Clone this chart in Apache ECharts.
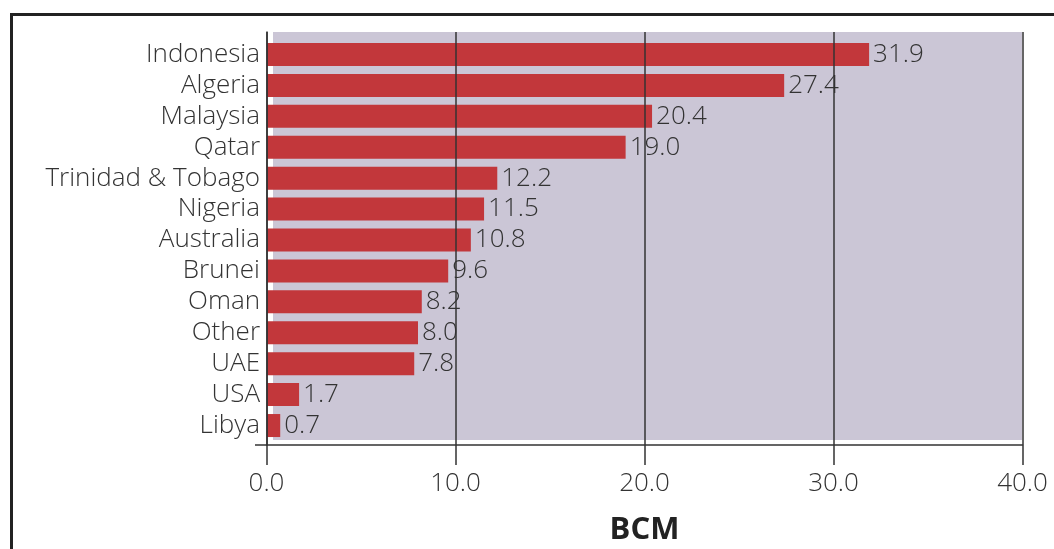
<!DOCTYPE html>
<html>
<head>
<meta charset="utf-8">
<script src="https://cdn.jsdelivr.net/npm/echarts@6/dist/echarts.min.js"></script>
<style>
html,body{margin:0;padding:0;background:#fff;}
#main{width:1054px;height:549px;}
</style>
</head>
<body>
<div id="main"></div>
<script>
// data (BCM)
var countries = ['Indonesia','Algeria','Malaysia','Qatar','Trinidad & Tobago','Nigeria','Australia','Brunei','Oman','Other','UAE','USA','Libya'];
var volumes = [31.9, 27.4, 20.4, 19.0, 12.2, 11.5, 10.8, 9.6, 8.2, 8.0, 7.8, 1.7, 0.7];
var xTicks = [0, 10, 20, 30, 40];

var FONT = 'Open Sans';
var TXT = '#333';

var myChart = echarts.init(document.getElementById('main'));

var option = {
    backgroundColor: '#fff',
    animation: false,
    graphic: [{
        // frame round the figure (only top and left are inside the picture)
        type: 'rect',
        shape: {x: 11.5, y: 14.5, width: 1200, height: 700},
        style: {fill: 'none', stroke: '#222', lineWidth: 3},
        z: 100
    }, {
        // axis line sticks out a little to the left of the y axis
        type: 'line',
        shape: {x1: 255, y1: 445, x2: 267, y2: 445},
        style: {stroke: '#333', lineWidth: 1.5},
        z: 100
    }],
    grid: [
        // bars
        {left: 267, right: 32, top: 39, bottom: 108, outerBoundsMode: 'none'},
        // axes / grid lines
        {left: 266.5, right: 31.5, top: 32, bottom: 104, outerBoundsMode: 'none'},
        // plot background
        {left: 273, right: 32, top: 32, bottom: 109, show: true, backgroundColor: '#cbc6d6', borderWidth: 0, z: -1, outerBoundsMode: 'none'}
    ],
    xAxis: [
        {gridIndex: 0, type: 'value', min: 0, max: 40, show: false},
        {
            gridIndex: 1, type: 'value', min: xTicks[0], max: xTicks[xTicks.length - 1], interval: 10,
            z: 5,
            name: 'BCM', nameLocation: 'middle', nameGap: 70,
            nameTextStyle: {fontFamily: FONT, fontWeight: 'bold', fontSize: 31, color: '#222'},
            axisLine: {show: true, lineStyle: {color: '#333', width: 1.5}},
            axisTick: {show: true, length: 20, lineStyle: {color: '#333', width: 1.5}},
            splitLine: {show: true, lineStyle: {color: '#333', width: 1.5}},
            axisLabel: {
                margin: 26, fontFamily: FONT, fontWeight: 300, fontSize: 26, color: TXT,
                formatter: function (v) { return v.toFixed(1); }
            }
        },
        {gridIndex: 2, type: 'value', show: false}
    ],
    yAxis: [
        {
            gridIndex: 0, type: 'category', data: countries, inverse: true,
            axisLine: {show: false}, axisTick: {show: false},
            axisLabel: {interval: 0, margin: 7, fontFamily: FONT, fontWeight: 300, fontSize: 26, color: TXT}
        },
        {
            gridIndex: 1, type: 'value', min: 0, max: 1, z: 5,
            axisLine: {show: true, lineStyle: {color: '#333', width: 1.5}},
            axisTick: {show: false}, axisLabel: {show: false}, splitLine: {show: false}
        },
        {gridIndex: 2, type: 'value', show: false}
    ],
    series: [{
        name: 'BCM',
        type: 'bar',
        xAxisIndex: 0,
        yAxisIndex: 0,
        data: volumes,
        barWidth: 23,
        itemStyle: {color: '#c2373b'},
        label: {
            show: true, position: 'right', distance: 4,
            fontFamily: FONT, fontWeight: 300, fontSize: 26, color: TXT,
            formatter: function (p) { return p.value.toFixed(1); }
        }
    }]
};

myChart.setOption(option);
</script>
</body>
</html>
